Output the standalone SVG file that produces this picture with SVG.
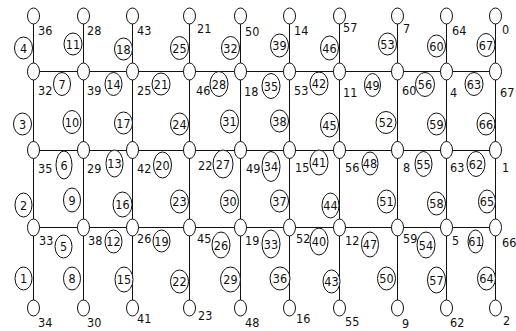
<svg xmlns="http://www.w3.org/2000/svg" width="516" height="331" viewBox="0 0 516 331">
<style>
.e{stroke:#111;stroke-width:1;fill:none}
.n{fill:#fff;stroke:#111;stroke-width:1}
.lc{fill:#fff;stroke:#111;stroke-width:1}
text{font-family:"Liberation Sans Narrow","DejaVu Sans Condensed","Liberation Sans",sans-serif;font-stretch:condensed;font-size:12.5px;fill:#111}
.m{text-anchor:middle}
</style>
<rect width="516" height="331" fill="#fff"/>
<g id="connectors">
<!-- vertical lines -->
<line class="e" x1="33.5" y1="24" x2="33.5" y2="300"/>
<line class="e" x1="83.5" y1="24" x2="83.5" y2="300"/>
<line class="e" x1="132.5" y1="24" x2="132.5" y2="300"/>
<line class="e" x1="189.5" y1="24" x2="189.5" y2="300"/>
<line class="e" x1="240.5" y1="24" x2="240.5" y2="300"/>
<line class="e" x1="289.5" y1="24" x2="289.5" y2="300"/>
<line class="e" x1="339.5" y1="24" x2="339.5" y2="300"/>
<line class="e" x1="397.5" y1="24" x2="397.5" y2="300"/>
<line class="e" x1="446.5" y1="24" x2="446.5" y2="300"/>
<line class="e" x1="495.5" y1="24" x2="495.5" y2="300"/>
<!-- horizontal lines -->
<line class="e" x1="33.5" y1="71.5" x2="495.5" y2="71.5"/>
<line class="e" x1="33.5" y1="150.5" x2="495.5" y2="150.5"/>
<line class="e" x1="33.5" y1="227.5" x2="495.5" y2="227.5"/>
<g id="edge-labels">
<!-- top vertical segments -->
<ellipse class="lc" cx="23.5" cy="48" rx="9" ry="11"/><text class="m" x="23.5" y="52.5">4</text>
<ellipse class="lc" cx="73" cy="44" rx="9" ry="11"/><text class="m" x="73" y="48.5">11</text>
<ellipse class="lc" cx="123.5" cy="49" rx="9" ry="11"/><text class="m" x="123.5" y="53.5">18</text>
<ellipse class="lc" cx="179.5" cy="48" rx="9" ry="11.5"/><text class="m" x="179.5" y="52.5">25</text>
<ellipse class="lc" cx="230.5" cy="48" rx="9" ry="11.5"/><text class="m" x="230.5" y="52.5">32</text>
<ellipse class="lc" cx="279.5" cy="45.5" rx="9" ry="11.5"/><text class="m" x="279.5" y="50">39</text>
<ellipse class="lc" cx="329.5" cy="48" rx="9" ry="12"/><text class="m" x="329.5" y="52.5">46</text>
<ellipse class="lc" cx="387.5" cy="44" rx="9" ry="11"/><text class="m" x="387.5" y="48.5">53</text>
<ellipse class="lc" cx="436.5" cy="46" rx="9" ry="11"/><text class="m" x="436.5" y="50.5">60</text>
<ellipse class="lc" cx="486" cy="45" rx="9" ry="11.5"/><text class="m" x="486" y="49.5">67</text>
<!-- row1 horizontal -->
<ellipse class="lc" cx="62" cy="84" rx="8.5" ry="11.5"/><text class="m" x="62" y="88.5">7</text>
<ellipse class="lc" cx="113.5" cy="84" rx="8.5" ry="11.5"/><text class="m" x="113.5" y="88.5">14</text>
<ellipse class="lc" cx="161" cy="84" rx="9" ry="11"/><text class="m" x="161" y="88.5">21</text>
<ellipse class="lc" cx="219" cy="84" rx="9" ry="12.5"/><text class="m" x="219" y="88.5">28</text>
<ellipse class="lc" cx="271" cy="86" rx="9" ry="12.5"/><text class="m" x="271" y="90.5">35</text>
<ellipse class="lc" cx="319" cy="83.5" rx="9" ry="11.5"/><text class="m" x="319" y="88">42</text>
<ellipse class="lc" cx="372.5" cy="85" rx="8" ry="11.5"/><text class="m" x="372.5" y="89.5">49</text>
<ellipse class="lc" cx="425" cy="84.5" rx="9.5" ry="12"/><text class="m" x="425" y="89">56</text>
<ellipse class="lc" cx="474" cy="84" rx="9" ry="11.5"/><text class="m" x="474" y="88.5">63</text>
<!-- row1-row2 vertical -->
<ellipse class="lc" cx="22.5" cy="124" rx="9" ry="11"/><text class="m" x="22.5" y="128.5">3</text>
<ellipse class="lc" cx="72" cy="122" rx="9" ry="11.5"/><text class="m" x="72" y="126.5">10</text>
<ellipse class="lc" cx="123.5" cy="123" rx="9" ry="11"/><text class="m" x="123.5" y="127.5">17</text>
<ellipse class="lc" cx="179.5" cy="124" rx="9" ry="11"/><text class="m" x="179.5" y="128.5">24</text>
<ellipse class="lc" cx="229.5" cy="121.5" rx="9" ry="11.5"/><text class="m" x="229.5" y="126">31</text>
<ellipse class="lc" cx="279.5" cy="121" rx="9" ry="11"/><text class="m" x="279.5" y="125.5">38</text>
<ellipse class="lc" cx="329.5" cy="125" rx="9" ry="12"/><text class="m" x="329.5" y="129.5">45</text>
<ellipse class="lc" cx="386" cy="122.5" rx="10" ry="11"/><text class="m" x="386" y="127">52</text>
<ellipse class="lc" cx="436.5" cy="124" rx="9" ry="11"/><text class="m" x="436.5" y="128.5">59</text>
<ellipse class="lc" cx="486" cy="124" rx="9" ry="11"/><text class="m" x="486" y="128.5">66</text>
<!-- row2 horizontal -->
<ellipse class="lc" cx="64" cy="165" rx="8" ry="14"/><text class="m" x="64" y="169.5">6</text>
<ellipse class="lc" cx="114.5" cy="163.5" rx="8.5" ry="13.5"/><text class="m" x="114.5" y="168">13</text>
<ellipse class="lc" cx="162.5" cy="165" rx="9" ry="13"/><text class="m" x="162.5" y="169.5">20</text>
<ellipse class="lc" cx="223" cy="164" rx="10" ry="14"/><text class="m" x="223" y="168.5">27</text>
<ellipse class="lc" cx="271" cy="166.5" rx="9" ry="15"/><text class="m" x="271" y="171">34</text>
<ellipse class="lc" cx="319" cy="162.5" rx="9" ry="12.5"/><text class="m" x="319" y="167">41</text>
<ellipse class="lc" cx="370" cy="163.5" rx="8" ry="11.5"/><text class="m" x="370" y="168">48</text>
<ellipse class="lc" cx="423.5" cy="164" rx="8.5" ry="12.5"/><text class="m" x="423.5" y="168.5">55</text>
<ellipse class="lc" cx="476" cy="164" rx="9" ry="12.5"/><text class="m" x="476" y="168.5">62</text>
<!-- row2-row3 vertical -->
<ellipse class="lc" cx="23.5" cy="205" rx="8.5" ry="12"/><text class="m" x="23.5" y="209.5">2</text>
<ellipse class="lc" cx="72" cy="200" rx="8.5" ry="12"/><text class="m" x="72" y="204.5">9</text>
<ellipse class="lc" cx="122.5" cy="204.5" rx="9.5" ry="12.5"/><text class="m" x="122.5" y="209">16</text>
<ellipse class="lc" cx="179.5" cy="201.5" rx="9" ry="11.5"/><text class="m" x="179.5" y="206">23</text>
<ellipse class="lc" cx="229.5" cy="201.5" rx="9" ry="11.5"/><text class="m" x="229.5" y="206">30</text>
<ellipse class="lc" cx="279.5" cy="201" rx="9" ry="11"/><text class="m" x="279.5" y="205.5">37</text>
<ellipse class="lc" cx="330.5" cy="205.5" rx="8.5" ry="12.5"/><text class="m" x="330.5" y="210">44</text>
<ellipse class="lc" cx="386.5" cy="201.5" rx="9" ry="11.5"/><text class="m" x="386.5" y="206">51</text>
<ellipse class="lc" cx="436.5" cy="203.5" rx="9" ry="11.5"/><text class="m" x="436.5" y="208">58</text>
<ellipse class="lc" cx="487" cy="201.5" rx="8.5" ry="11.5"/><text class="m" x="487" y="206">65</text>
<!-- row3 horizontal -->
<ellipse class="lc" cx="63.5" cy="246.5" rx="8.5" ry="11.5"/><text class="m" x="63.5" y="251">5</text>
<ellipse class="lc" cx="113.5" cy="241.5" rx="8.5" ry="11.5"/><text class="m" x="113.5" y="246">12</text>
<ellipse class="lc" cx="161.5" cy="241" rx="8.5" ry="11"/><text class="m" x="161.5" y="245.5">19</text>
<ellipse class="lc" cx="221" cy="245" rx="9" ry="13"/><text class="m" x="221" y="249.5">26</text>
<ellipse class="lc" cx="271" cy="244" rx="9" ry="14"/><text class="m" x="271" y="248.5">33</text>
<ellipse class="lc" cx="319" cy="241.5" rx="9" ry="13.5"/><text class="m" x="319" y="246">40</text>
<ellipse class="lc" cx="370" cy="244.5" rx="8.5" ry="12.5"/><text class="m" x="370" y="249">47</text>
<ellipse class="lc" cx="426" cy="245" rx="9" ry="13"/><text class="m" x="426" y="249.5">54</text>
<ellipse class="lc" cx="475.5" cy="241.5" rx="7.5" ry="11.5"/><text class="m" x="475.5" y="246">61</text>
<!-- bottom vertical segments -->
<ellipse class="lc" cx="23.5" cy="278.5" rx="8.5" ry="11.5"/><text class="m" x="23.5" y="283">1</text>
<ellipse class="lc" cx="72" cy="278.5" rx="8.5" ry="11.5"/><text class="m" x="72" y="283">8</text>
<ellipse class="lc" cx="124" cy="279.5" rx="9" ry="12.5"/><text class="m" x="124" y="284">15</text>
<ellipse class="lc" cx="179.5" cy="281.5" rx="9" ry="11.5"/><text class="m" x="179.5" y="286">22</text>
<ellipse class="lc" cx="230.5" cy="279.5" rx="10" ry="12.5"/><text class="m" x="230.5" y="284">29</text>
<ellipse class="lc" cx="280" cy="278.5" rx="10" ry="11.5"/><text class="m" x="280" y="283">36</text>
<ellipse class="lc" cx="331.5" cy="281.5" rx="8.5" ry="11.5"/><text class="m" x="331.5" y="286">43</text>
<ellipse class="lc" cx="386.5" cy="278.5" rx="9" ry="11.5"/><text class="m" x="386.5" y="283">50</text>
<ellipse class="lc" cx="436.5" cy="280" rx="9" ry="13"/><text class="m" x="436.5" y="284.5">57</text>
<ellipse class="lc" cx="486.5" cy="278.5" rx="9" ry="11.5"/><text class="m" x="486.5" y="283">64</text>
</g>
</g>
<!-- top terminals -->
<g id="t36"><ellipse class="n" cx="33.5" cy="16" rx="6" ry="8"/><text x="38" y="35">36</text></g>
<g id="t28"><ellipse class="n" cx="83.5" cy="16" rx="6" ry="8"/><text x="87" y="35">28</text></g>
<g id="t43"><ellipse class="n" cx="132.5" cy="16" rx="6" ry="8"/><text x="137" y="35">43</text></g>
<g id="t21"><ellipse class="n" cx="189.5" cy="16" rx="6" ry="8"/><text x="197" y="33">21</text></g>
<g id="t50"><ellipse class="n" cx="240.5" cy="16" rx="6" ry="8"/><text x="245" y="36">50</text></g>
<g id="t14"><ellipse class="n" cx="289.5" cy="16" rx="6" ry="8"/><text x="294" y="35">14</text></g>
<g id="t57"><ellipse class="n" cx="339.5" cy="16" rx="6" ry="8"/><text x="343" y="32">57</text></g>
<g id="t7"><ellipse class="n" cx="397.5" cy="16" rx="6" ry="8"/><text x="403" y="33">7</text></g>
<g id="t64"><ellipse class="n" cx="446.5" cy="16" rx="6" ry="8"/><text x="452" y="35">64</text></g>
<g id="t0"><ellipse class="n" cx="495.5" cy="16" rx="6" ry="8"/><text x="502" y="34">0</text></g>
<!-- row 1 nodes -->
<g id="n32"><ellipse class="n" cx="33.5" cy="71.5" rx="6" ry="8.5"/><text x="38" y="95">32</text></g>
<g id="n39"><ellipse class="n" cx="83.5" cy="71.5" rx="6" ry="8.5"/><text x="87" y="95">39</text></g>
<g id="n25"><ellipse class="n" cx="132.5" cy="71.5" rx="6" ry="8.5"/><text x="137" y="95">25</text></g>
<g id="n46"><ellipse class="n" cx="189.5" cy="71.5" rx="6" ry="8.5"/><text x="196" y="95">46</text></g>
<g id="n18"><ellipse class="n" cx="240.5" cy="71.5" rx="6" ry="8.5"/><text x="244" y="96">18</text></g>
<g id="n53"><ellipse class="n" cx="289.5" cy="71.5" rx="6" ry="8.5"/><text x="294" y="95">53</text></g>
<g id="n11"><ellipse class="n" cx="339.5" cy="71.5" rx="6" ry="8.5"/><text x="343" y="97">11</text></g>
<g id="n60"><ellipse class="n" cx="397.5" cy="71.5" rx="6" ry="8.5"/><text x="402" y="95">60</text></g>
<g id="n4"><ellipse class="n" cx="446.5" cy="71.5" rx="6" ry="8.5"/><text x="450" y="97">4</text></g>
<g id="n67"><ellipse class="n" cx="495.5" cy="71.5" rx="6" ry="8.5"/><text x="500" y="97">67</text></g>
<!-- row 2 nodes -->
<g id="n35"><ellipse class="n" cx="33.5" cy="150" rx="6" ry="8.5"/><text x="38" y="173">35</text></g>
<g id="n29"><ellipse class="n" cx="83.5" cy="150" rx="6" ry="8.5"/><text x="87" y="173">29</text></g>
<g id="n42"><ellipse class="n" cx="132.5" cy="150" rx="6" ry="8.5"/><text x="137" y="173">42</text></g>
<g id="n22"><ellipse class="n" cx="189.5" cy="150" rx="6" ry="8.5"/><text x="198" y="170">22</text></g>
<g id="n49"><ellipse class="n" cx="240.5" cy="150" rx="6" ry="8.5"/><text x="246" y="173">49</text></g>
<g id="n15"><ellipse class="n" cx="289.5" cy="150" rx="6" ry="8.5"/><text x="295" y="172">15</text></g>
<g id="n56"><ellipse class="n" cx="339.5" cy="150" rx="6" ry="8.5"/><text x="345" y="172">56</text></g>
<g id="n8"><ellipse class="n" cx="397.5" cy="150" rx="6" ry="8.5"/><text x="403" y="172">8</text></g>
<g id="n63"><ellipse class="n" cx="446.5" cy="150" rx="6" ry="8.5"/><text x="450" y="172">63</text></g>
<g id="n1"><ellipse class="n" cx="495.5" cy="150" rx="6" ry="8.5"/><text x="502" y="172">1</text></g>
<!-- row 3 nodes -->
<g id="n33"><ellipse class="n" cx="33.5" cy="227.5" rx="6" ry="8.5"/><text x="39" y="245">33</text></g>
<g id="n38"><ellipse class="n" cx="83.5" cy="227.5" rx="6" ry="8.5"/><text x="88" y="245">38</text></g>
<g id="n26"><ellipse class="n" cx="132.5" cy="227.5" rx="6" ry="8.5"/><text x="137" y="243">26</text></g>
<g id="n45"><ellipse class="n" cx="189.5" cy="227.5" rx="6" ry="8.5"/><text x="197" y="243">45</text></g>
<g id="n19"><ellipse class="n" cx="240.5" cy="227.5" rx="6" ry="8.5"/><text x="245" y="245">19</text></g>
<g id="n52"><ellipse class="n" cx="289.5" cy="227.5" rx="6" ry="8.5"/><text x="296" y="243">52</text></g>
<g id="n12"><ellipse class="n" cx="339.5" cy="227.5" rx="6" ry="8.5"/><text x="345" y="245">12</text></g>
<g id="n59"><ellipse class="n" cx="397.5" cy="227.5" rx="6" ry="8.5"/><text x="403" y="243">59</text></g>
<g id="n5"><ellipse class="n" cx="446.5" cy="227.5" rx="6" ry="8.5"/><text x="452" y="245">5</text></g>
<g id="n66"><ellipse class="n" cx="495.5" cy="227.5" rx="6" ry="8.5"/><text x="502" y="247">66</text></g>
<!-- bottom terminals -->
<g id="b34"><ellipse class="n" cx="33.5" cy="308" rx="6" ry="8"/><text x="38" y="327">34</text></g>
<g id="b30"><ellipse class="n" cx="83.5" cy="308" rx="6" ry="8"/><text x="87" y="327">30</text></g>
<g id="b41"><ellipse class="n" cx="132.5" cy="308" rx="6" ry="8"/><text x="137" y="323">41</text></g>
<g id="b23"><ellipse class="n" cx="189.5" cy="308" rx="6" ry="8"/><text x="198" y="320">23</text></g>
<g id="b48"><ellipse class="n" cx="240.5" cy="308" rx="6" ry="8"/><text x="245" y="327">48</text></g>
<g id="b16"><ellipse class="n" cx="289.5" cy="308" rx="6" ry="8"/><text x="296" y="323">16</text></g>
<g id="b55"><ellipse class="n" cx="339.5" cy="308" rx="6" ry="8"/><text x="345" y="326">55</text></g>
<g id="b9"><ellipse class="n" cx="397.5" cy="308" rx="6" ry="8"/><text x="402" y="328">9</text></g>
<g id="b62"><ellipse class="n" cx="446.5" cy="308" rx="6" ry="8"/><text x="450" y="327">62</text></g>
<g id="b2"><ellipse class="n" cx="495.5" cy="308" rx="6" ry="8"/><text x="503" y="325">2</text></g>
</svg>
